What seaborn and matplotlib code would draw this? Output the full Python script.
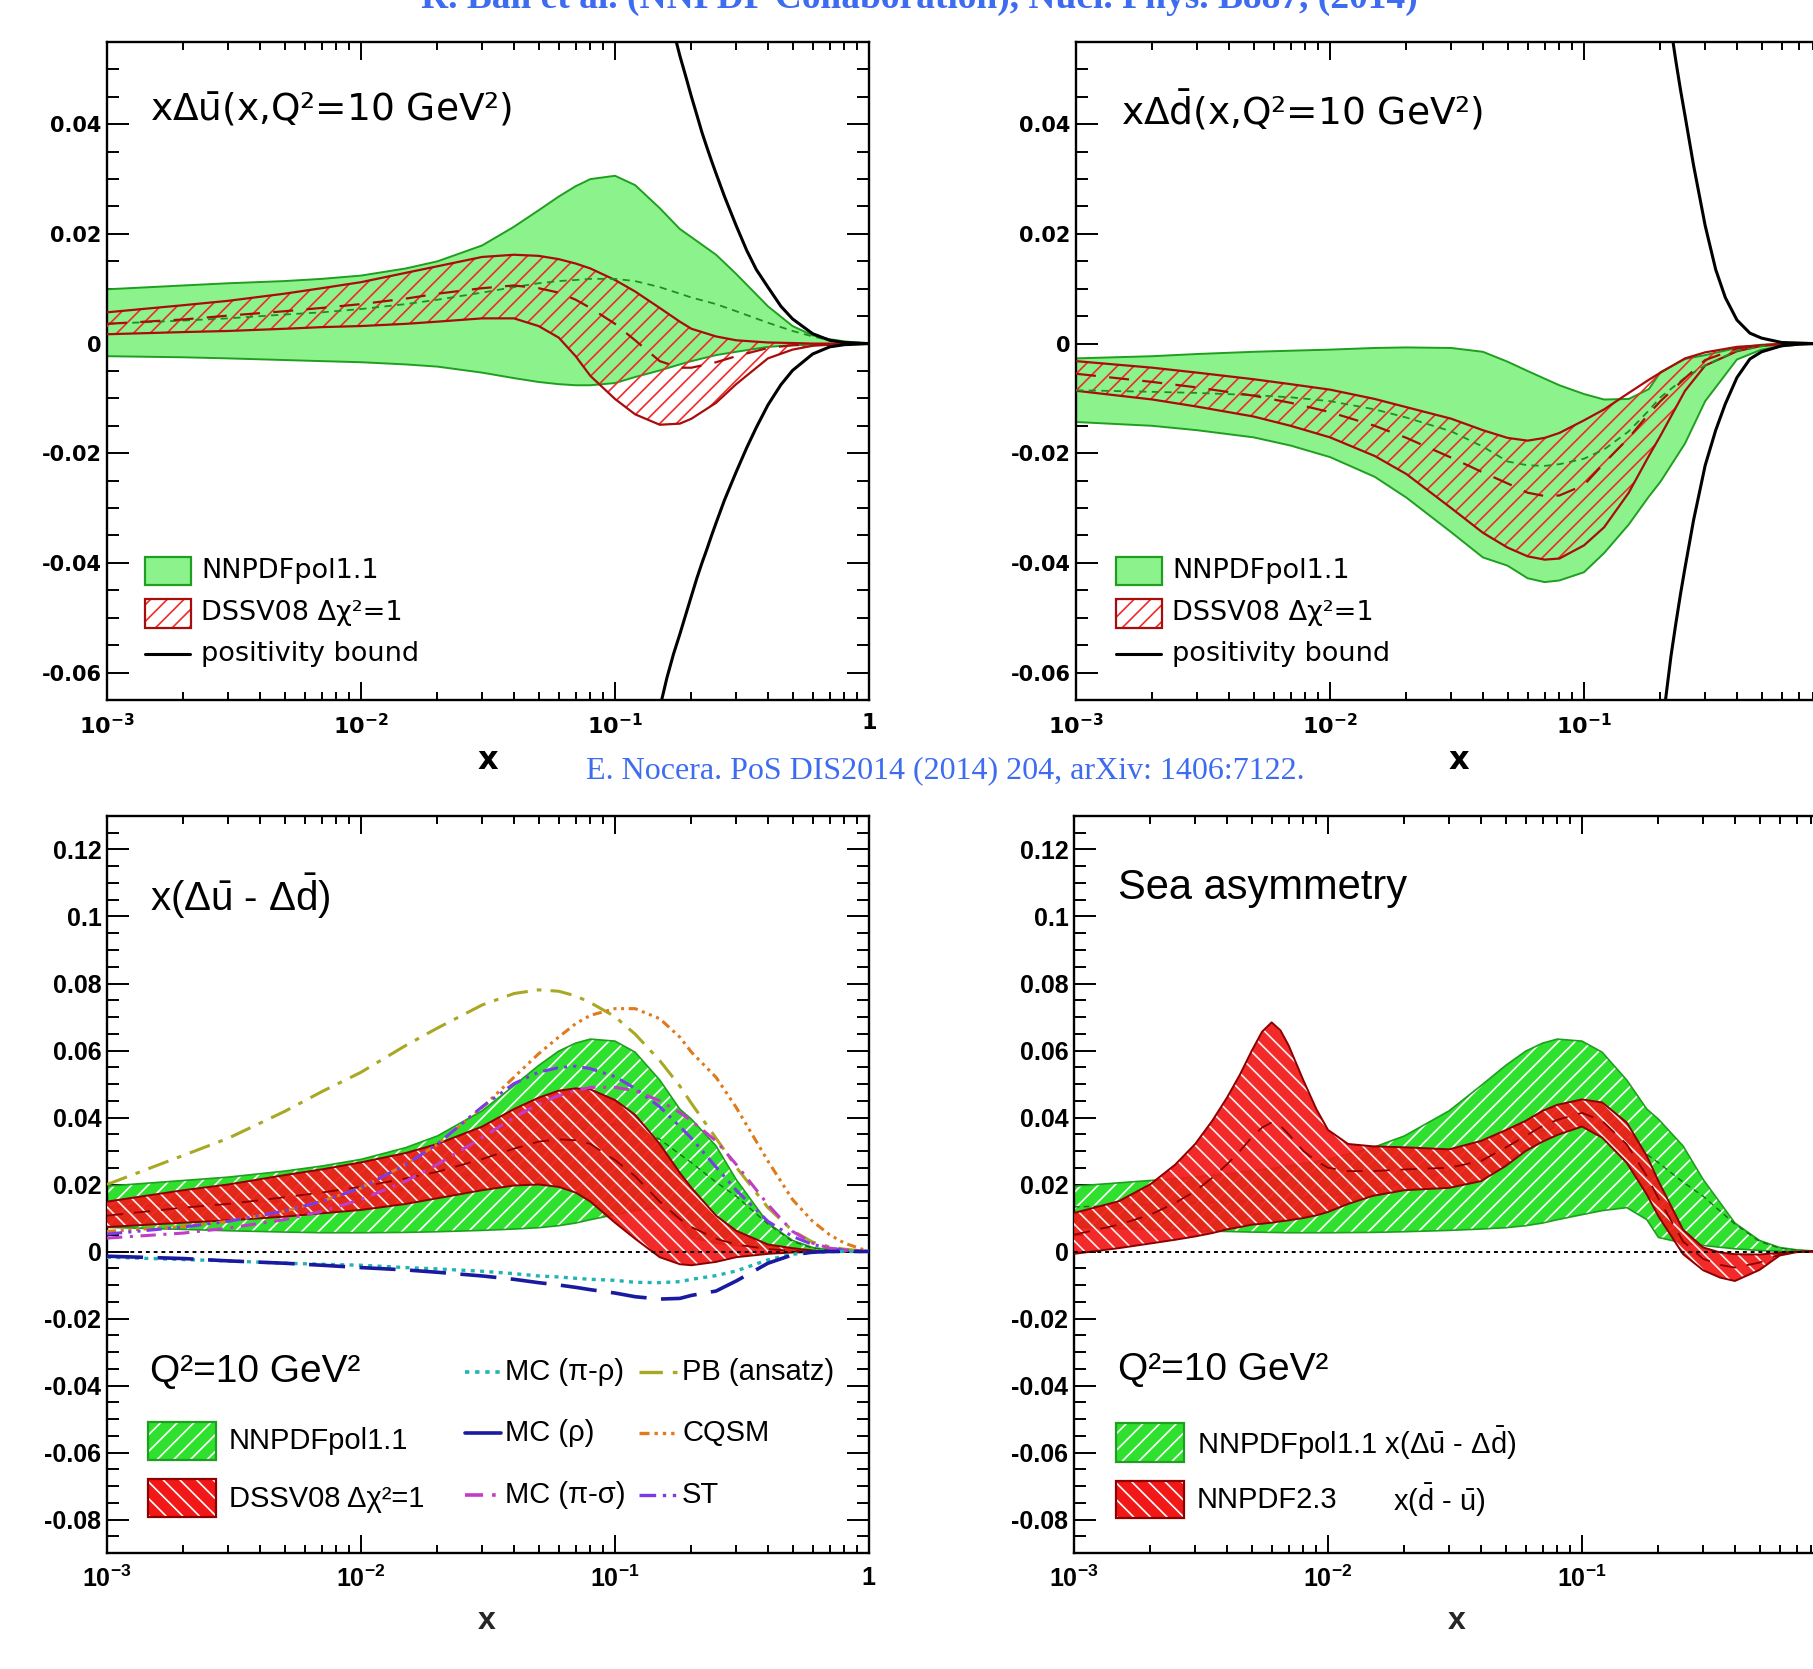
import numpy as np
import matplotlib
matplotlib.use("Agg")
import matplotlib.pyplot as plt
import seaborn as sns
from matplotlib.patches import Rectangle
from matplotlib.lines import Line2D
from matplotlib.ticker import FixedLocator, LogLocator, NullFormatter, MultipleLocator

sns.set_theme(style="ticks")
plt.rcParams["font.family"] = ["DejaVu Sans"]
plt.rcParams["mathtext.fontset"] = "custom"
plt.rcParams["mathtext.rm"] = "Liberation Sans"
plt.rcParams["mathtext.it"] = "Liberation Sans"
plt.rcParams["mathtext.bf"] = "Liberation Sans:bold"
plt.rcParams["hatch.linewidth"] = 1.2

# ---------------- data ----------------
x_grid = [0.001, 0.002, 0.003, 0.005, 0.007, 0.01, 0.015, 0.02, 0.03, 0.04, 0.05, 0.06, 0.07,
          0.08, 0.1, 0.12, 0.15, 0.18, 0.2, 0.25, 0.3, 0.4, 0.5, 0.6, 0.7, 0.8, 1.0]
x_bound = [0.15, 0.16, 0.17, 0.18, 0.19, 0.2, 0.21, 0.22, 0.23, 0.24, 0.25, 0.27, 0.3, 0.33, 0.36, 0.4, 0.45,
           0.5, 0.6, 0.7, 0.8, 0.9, 1.0]

# x Delta ubar
ubar_nn_hi = [0.0099, 0.0106, 0.011, 0.0114, 0.0118, 0.0124, 0.0137, 0.015, 0.0179, 0.0213, 0.0243, 0.0268, 0.0287,
              0.030, 0.0306, 0.0289, 0.0247, 0.0209, 0.0194, 0.0162, 0.0127, 0.0068, 0.0032, 0.0015, 0.0008, 0.0004, 0.0]
ubar_nn_lo = [-0.0023, -0.0025, -0.0027, -0.0030, -0.0032, -0.0034, -0.0038, -0.0042, -0.0053, -0.0063, -0.0070, -0.0074,
              -0.0076, -0.0076, -0.0072, -0.0061, -0.0049, -0.0038, -0.0032, -0.0021, -0.0015, -0.0006, -0.0003, -0.0002,
              -0.0001, 0.0, 0.0]
ubar_nn_cv = [0.0036, 0.0042, 0.0046, 0.0053, 0.0057, 0.0063, 0.0072, 0.008, 0.0093, 0.0103, 0.011, 0.0114, 0.0116,
              0.0118, 0.0118, 0.0114, 0.0103, 0.0091, 0.0084, 0.0072, 0.0059, 0.0038, 0.0023, 0.0013, 0.0006, 0.0002, 0.0]
ubar_ds_hi = [0.0057, 0.007, 0.0078, 0.0091, 0.0101, 0.0112, 0.0129, 0.0141, 0.0158, 0.0162, 0.016, 0.0154, 0.0146,
              0.0137, 0.0116, 0.0095, 0.0065, 0.004, 0.0027, 0.0013, 0.0006, 0.0002, 0.0001, 0.0, 0.0, 0.0, 0.0]
ubar_ds_lo = [0.0017, 0.0021, 0.0023, 0.0027, 0.003, 0.0032, 0.0036, 0.004, 0.0046, 0.0046, 0.0032, 0.0011, -0.0023,
              -0.0059, -0.0101, -0.0129, -0.0148, -0.0146, -0.0137, -0.0108, -0.0074, -0.0027, -0.0011, -0.0004, -0.0002,
              -0.0001, 0.0]
ubar_ds_cv = [0.0036, 0.0044, 0.0051, 0.0059, 0.0065, 0.0072, 0.0082, 0.0091, 0.0101, 0.0106, 0.0101, 0.0093, 0.008,
              0.0065, 0.0036, 0.0006, -0.0032, -0.0044, -0.0044, -0.0034, -0.0023, -0.0008, -0.0003, -0.0002, -0.0001,
              0.0, 0.0]
ubar_pos_hi = [0.068, 0.0625, 0.057, 0.0525, 0.0487, 0.045, 0.0417, 0.0385, 0.0358, 0.0333, 0.031, 0.0268, 0.0215,
               0.017, 0.0135, 0.0103, 0.0068, 0.0045, 0.0018, 0.0006, 0.0002, 0.0001, 0.0]
ubar_pos_lo = [-0.0665, -0.061, -0.0566, -0.053, -0.0494, -0.046, -0.0428, -0.040, -0.0375, -0.035, -0.0327, -0.0285,
               -0.0234, -0.019, -0.0153, -0.0112, -0.0075, -0.0049, -0.0019, -0.0006, -0.0002, -0.0001, 0.0]

# x Delta dbar
dbar_nn_hi = [-0.0027, -0.0023, -0.0019, -0.0015, -0.0013, -0.0011, -0.0008, -0.0007, -0.0008, -0.0015, -0.0033, -0.0050,
              -0.0064, -0.0076, -0.0092, -0.0102, -0.0101, -0.0083, -0.0052, -0.0028, -0.0021, -0.0008, -0.0002, -0.0001,
              0.0, 0.0, 0.0]
dbar_nn_lo = [-0.0143, -0.015, -0.0158, -0.0171, -0.0186, -0.0207, -0.0243, -0.0281, -0.0344, -0.039, -0.0405, -0.0428,
              -0.0435, -0.0432, -0.0417, -0.0382, -0.0330, -0.0279, -0.0252, -0.0182, -0.0105, -0.0029, -0.0011, -0.0005,
              -0.0002, -0.0001, 0.0]
dbar_nn_cv = [-0.0085, -0.0088, -0.009, -0.0094, -0.0098, -0.0105, -0.012, -0.0135, -0.016, -0.0188, -0.0215, -0.0222,
              -0.0223, -0.022, -0.021, -0.0193, -0.016, -0.0122, -0.0098, -0.0062, -0.0040, -0.0013, -0.0005, -0.0002,
              -0.0001, 0.0, 0.0]
dbar_ds_hi = [-0.0032, -0.0044, -0.0053, -0.0065, -0.0074, -0.0084, -0.0101, -0.0116, -0.0137, -0.0158, -0.0172, -0.0177,
              -0.0172, -0.0163, -0.0140, -0.0120, -0.0090, -0.0066, -0.0053, -0.0027, -0.0016, -0.0006, -0.0003, -0.0001,
              0.0, 0.0, 0.0]
dbar_ds_lo = [-0.0086, -0.0102, -0.0115, -0.0133, -0.0150, -0.0171, -0.0205, -0.0238, -0.0300, -0.0345, -0.0372, -0.0388,
              -0.0394, -0.0392, -0.0368, -0.0335, -0.0272, -0.0205, -0.0168, -0.0086, -0.0040, -0.0014, -0.0004, -0.0002,
              -0.0001, 0.0, 0.0]
dbar_ds_cv = [-0.0055, -0.007, -0.008, -0.0095, -0.0108, -0.0125, -0.015, -0.0172, -0.0208, -0.0235, -0.0255, -0.0272,
              -0.0278, -0.0277, -0.0258, -0.0218, -0.0172, -0.0128, -0.0105, -0.0063, -0.0030, -0.0009, -0.0003, -0.0001,
              0.0, 0.0, 0.0]
dbar_pos_hi = [0.14, 0.125, 0.11, 0.095, 0.082, 0.071, 0.064, 0.0575, 0.0515, 0.0462, 0.0415, 0.0325, 0.0215, 0.0135,
               0.0084, 0.0043, 0.0019, 0.001, 0.0002, 0.0001, 0.0, 0.0, 0.0]
dbar_pos_lo = [-0.13, -0.115, -0.10, -0.092, -0.083, -0.073, -0.0645, -0.057, -0.051, -0.0456, -0.0408, -0.0322, -0.0222,
               -0.0158, -0.011, -0.0062, -0.0028, -0.0015, -0.0004, -0.0001, 0.0, 0.0, 0.0]

# x(Delta ubar - Delta dbar)
diff_nn_hi = [0.0195, 0.0212, 0.0222, 0.024, 0.0255, 0.0275, 0.031, 0.0345, 0.042, 0.0495, 0.0555, 0.0598, 0.0622,
              0.0634, 0.0628, 0.0595, 0.0512, 0.0425, 0.0395, 0.0315, 0.0215, 0.0085, 0.0033, 0.0012, 0.0005, 0.0002, 0.0]
diff_nn_lo = [0.0072, 0.0066, 0.0062, 0.0058, 0.0056, 0.0056, 0.0057, 0.0059, 0.0063, 0.0067, 0.0071, 0.0077, 0.0085,
              0.0095, 0.011, 0.0122, 0.0131, 0.0095, 0.0042, 0.0025, 0.0018, 0.0008, 0.0003, 0.0001, 0.0, 0.0, 0.0]
diff_nn_cv = [0.0133, 0.014, 0.0145, 0.015, 0.0157, 0.0166, 0.0185, 0.0203, 0.024, 0.028, 0.0313, 0.034, 0.036, 0.0372,
              0.038, 0.037, 0.0335, 0.029, 0.0265, 0.0207, 0.0165, 0.0082, 0.003, 0.001, 0.0004, 0.0001, 0.0]
diff_ds_hi = [0.0149, 0.0183, 0.02, 0.0228, 0.0245, 0.0266, 0.0294, 0.0321, 0.0373, 0.0425, 0.0459, 0.048, 0.0487,
              0.0484, 0.0452, 0.0408, 0.0321, 0.0235, 0.019, 0.0107, 0.0062, 0.0021, 0.001, 0.0003, 0.0, 0.0, 0.0]
diff_ds_lo = [0.0073, 0.0086, 0.0093, 0.0104, 0.0114, 0.0124, 0.0142, 0.0159, 0.0183, 0.0197, 0.02, 0.0193, 0.0176,
              0.0149, 0.0086, 0.0038, -0.0017, -0.0038, -0.0041, -0.0031, -0.0017, -0.0007, -0.0003, -0.0002, -0.0001,
              0.0, 0.0]
diff_ds_cv = [0.0107, 0.0131, 0.0142, 0.0162, 0.0176, 0.0193, 0.0218, 0.0238, 0.0276, 0.0307, 0.0328, 0.0335, 0.0332,
              0.0321, 0.0273, 0.0225, 0.0149, 0.0097, 0.0073, 0.0038, 0.0021, 0.0007, 0.0002, 0.0, 0.0, 0.0, 0.0]

# model curves
mc_pirho = [-0.0017, -0.0024, -0.0028, -0.0035, -0.0038, -0.0041, -0.0048, -0.0052, -0.0059, -0.0066, -0.0073, -0.0076,
            -0.008, -0.0083, -0.0086, -0.0092, -0.0093, -0.009, -0.0083, -0.0072, -0.0058, -0.0025, -0.0008, -0.0003,
            0.0, 0.0, 0.0]
mc_rho = [-0.0014, -0.0021, -0.0028, -0.0035, -0.0041, -0.0048, -0.0055, -0.0062, -0.0073, -0.0083, -0.0093, -0.01,
          -0.0107, -0.0114, -0.0124, -0.0135, -0.0142, -0.014, -0.0131, -0.0118, -0.0088, -0.0035, -0.001, -0.0002,
          0.0, 0.0, 0.0]
mc_pisigma = [0.004, 0.0055, 0.007, 0.0095, 0.012, 0.0155, 0.021, 0.026, 0.034, 0.04, 0.044, 0.0465, 0.048, 0.049, 0.049,
              0.048, 0.045, 0.0415, 0.039, 0.033, 0.026, 0.014, 0.006, 0.0025, 0.001, 0.0004, 0.0]
pb_ansatz = [0.02, 0.0287, 0.0338, 0.0418, 0.0477, 0.0535, 0.0615, 0.0667, 0.0736, 0.077, 0.0781, 0.0777, 0.0763, 0.0743,
             0.0701, 0.0649, 0.057, 0.0494, 0.0442, 0.0338, 0.0252, 0.0131, 0.0062, 0.0028, 0.0014, 0.0007, 0.0]
cqsm = [0.006, 0.0075, 0.009, 0.012, 0.015, 0.019, 0.026, 0.032, 0.043, 0.052, 0.059, 0.064, 0.068, 0.0705, 0.0725,
        0.0725, 0.0695, 0.064, 0.0595, 0.052, 0.043, 0.027, 0.0155, 0.009, 0.005, 0.0025, 0.0]
st_model = [0.0052, 0.0073, 0.009, 0.0121, 0.0149, 0.019, 0.0259, 0.0321, 0.0432, 0.0501, 0.0535, 0.0549, 0.0553, 0.0546,
            0.0522, 0.0487, 0.0432, 0.0373, 0.0338, 0.0252, 0.0183, 0.009, 0.0045, 0.0021, 0.001, 0.0004, 0.0]

# NNPDF2.3 x(dbar - ubar)
x_nn23 = [0.001, 0.0015, 0.002, 0.0025, 0.003, 0.0035, 0.004, 0.0045, 0.005, 0.0055, 0.006, 0.0065, 0.007, 0.008, 0.009,
          0.01, 0.012, 0.015, 0.02, 0.03, 0.04, 0.05, 0.06, 0.07, 0.08, 0.1, 0.12, 0.15, 0.18, 0.2, 0.25, 0.3, 0.35,
          0.4, 0.5, 0.6, 0.7, 0.8, 1.0]
nn23_hi = [0.0115, 0.015, 0.0201, 0.0259, 0.0321, 0.039, 0.0459, 0.0528, 0.0598, 0.0656, 0.0684, 0.066, 0.0615, 0.0511,
           0.0425, 0.0363, 0.0321, 0.0314, 0.0311, 0.0305, 0.033, 0.0362, 0.039, 0.042, 0.0438, 0.0454, 0.0445, 0.0385,
           0.0285, 0.021, 0.0065, 0.0012, -0.0003, -0.0008, -0.0009, -0.0004, -0.0001, 0.0, 0.0]
nn23_lo = [-0.0007, 0.001, 0.0024, 0.0035, 0.0045, 0.0055, 0.0066, 0.0073, 0.008, 0.0083, 0.0086, 0.009, 0.0093, 0.01,
           0.0108, 0.0118, 0.0142, 0.0166, 0.0183, 0.019, 0.021, 0.0255, 0.030, 0.0328, 0.0348, 0.0373, 0.034, 0.0265,
           0.017, 0.0105, -0.0008, -0.0056, -0.0078, -0.0088, -0.0055, -0.0012, -0.0002, 0.0, 0.0]
nn23_cv = [0.005, 0.008, 0.011, 0.0145, 0.018, 0.022, 0.026, 0.030, 0.034, 0.037, 0.0385, 0.0375, 0.035, 0.030, 0.027,
           0.025, 0.024, 0.024, 0.0245, 0.025, 0.027, 0.031, 0.0345, 0.0375, 0.0393, 0.0414, 0.039, 0.032, 0.0225, 0.0158,
           0.003, -0.0022, -0.004, -0.0048, -0.0033, -0.0009, -0.0001, 0.0, 0.0]

x_tick_values = [1e-3, 1e-2, 1e-1, 1.0]
x_tick_labels = [r"$\mathbf{10^{-3}}$", r"$\mathbf{10^{-2}}$", r"$\mathbf{10^{-1}}$", r"$\mathbf{1}$"]
top_yticks = [-0.06, -0.04, -0.02, 0.0, 0.02, 0.04]
bot_yticks = [-0.08, -0.06, -0.04, -0.02, 0.0, 0.02, 0.04, 0.06, 0.08, 0.1, 0.12]

# ---------------- styling ----------------
W, H = 1813, 1669
fig = plt.figure(figsize=(W / 100, H / 100), dpi=100, facecolor="white")

def fx(px):
    return px / W

def fy(py):
    return 1 - py / H

ax_tl = fig.add_axes([fx(107), fy(700), 762 / W, 658 / H])
ax_tr = fig.add_axes([fx(1076), fy(700), 762 / W, 658 / H])
ax_bl = fig.add_axes([fx(107), fy(1553), 762 / W, 737 / H])
ax_br = fig.add_axes([fx(1074), fy(1553), 762 / W, 737 / H])

GREEN_FILL = "#8cf28c"
GREEN_EDGE = "#1f9e1f"
RED_HATCH = "#f02a2a"
RED_EDGE = "#a80c0c"
BGREEN = "#2fe02f"
BRED = "#f21818"


def fmt_y(v):
    if abs(v) < 1e-9:
        return "0"
    return ("%g" % round(v, 3))


def style_axes(ax, ylim, yticks, top, right_panel):
    ax.set_xscale("log")
    ax.set_xlim(1e-3, 1.0)
    ax.set_ylim(*ylim)
    ax.set_facecolor("white")
    fam = "DejaVu Sans" if top else "Liberation Sans"
    mff = "dejavusans" if top else "custom"
    ax.xaxis.set_major_locator(FixedLocator(x_tick_values))
    ax.xaxis.set_minor_locator(LogLocator(base=10, subs=np.arange(2, 10), numticks=30))
    ax.xaxis.set_minor_formatter(NullFormatter())
    ax.set_xticks(x_tick_values)
    labels = list(x_tick_labels)
    if right_panel:
        labels[-1] = ""  # beyond the cropped right edge
    ax.set_xticklabels(labels, fontsize=16 if top else 18, fontfamily=fam, math_fontfamily=mff)
    ax.set_yticks(yticks)
    ax.set_yticklabels([fmt_y(v) for v in yticks], fontsize=15 if top else 18, fontweight="bold", fontfamily=fam)
    ax.yaxis.set_minor_locator(MultipleLocator(0.005))
    ax.tick_params(axis="both", which="both", direction="in", top=True, right=True, width=1.4, color="black",
                   labelcolor="black")
    ax.tick_params(axis="y", which="major", length=16, pad=4)
    ax.tick_params(axis="y", which="minor", length=8.5)
    ax.tick_params(axis="x", which="major", length=13, pad=9)
    ax.tick_params(axis="x", which="minor", length=6)
    for s in ax.spines.values():
        s.set_linewidth(1.7)
        s.set_color("black")
    ax.grid(False)


def line(ax, x, y, **kw):
    sns.lineplot(x=x, y=y, ax=ax, estimator=None, sort=False, **kw)


def draw_top(ax, nn_lo, nn_hi, nn_cv, ds_lo, ds_hi, ds_cv, pos_hi, pos_lo):
    ax.fill_between(x_grid, nn_lo, nn_hi, facecolor=GREEN_FILL, edgecolor="none", linewidth=0, zorder=1)
    line(ax, x_grid, nn_hi, color=GREEN_EDGE, linewidth=1.4, zorder=2)
    line(ax, x_grid, nn_lo, color=GREEN_EDGE, linewidth=1.4, zorder=2)
    ax.fill_between(x_grid, ds_lo, ds_hi, facecolor="none", edgecolor=RED_HATCH, hatch="//", linewidth=0, zorder=3)
    line(ax, x_grid, ds_hi, color=RED_EDGE, linewidth=1.6, zorder=4)
    line(ax, x_grid, ds_lo, color=RED_EDGE, linewidth=1.6, zorder=4)
    line(ax, x_grid, nn_cv, color="#1f8f1f", linewidth=1.3, linestyle=(0, (4, 3)), zorder=4)
    line(ax, x_grid, ds_cv, color=RED_EDGE, linewidth=1.6, linestyle=(0, (9, 6)), zorder=4)
    line(ax, x_bound, pos_hi, color="black", linewidth=2.2, zorder=5)
    line(ax, x_bound, pos_lo, color="black", linewidth=2.2, zorder=5)


style_axes(ax_tl, (-0.065, 0.055), top_yticks, True, False)
style_axes(ax_tr, (-0.065, 0.055), top_yticks, True, True)
style_axes(ax_bl, (-0.09, 0.13), bot_yticks, False, False)
style_axes(ax_br, (-0.09, 0.13), bot_yticks, False, True)

draw_top(ax_tl, ubar_nn_lo, ubar_nn_hi, ubar_nn_cv, ubar_ds_lo, ubar_ds_hi, ubar_ds_cv, ubar_pos_hi, ubar_pos_lo)
draw_top(ax_tr, dbar_nn_lo, dbar_nn_hi, dbar_nn_cv, dbar_ds_lo, dbar_ds_hi, dbar_ds_cv, dbar_pos_hi, dbar_pos_lo)


def green_pattern_band(ax, x, lo, hi, cv):
    ax.fill_between(x, lo, hi, facecolor=BGREEN, edgecolor="white", hatch="//", linewidth=0, zorder=1)
    line(ax, x, hi, color=GREEN_EDGE, linewidth=1.2, zorder=2)
    line(ax, x, lo, color=GREEN_EDGE, linewidth=1.2, zorder=2)
    line(ax, x, cv, color="#176f17", linewidth=1.0, linestyle=(0, (4, 3)), zorder=2)


def red_pattern_band(ax, x, lo, hi, cv):
    ax.fill_between(x, lo, hi, facecolor=BRED, edgecolor="white", hatch="\\\\", linewidth=0, alpha=0.92, zorder=3)
    line(ax, x, hi, color="#8c0000", linewidth=1.4, zorder=4)
    line(ax, x, lo, color="#8c0000", linewidth=1.4, zorder=4)
    line(ax, x, cv, color="#8c0000", linewidth=1.3, linestyle=(0, (9, 6)), zorder=4)


# bottom left
ax_bl.axhline(0.0, color="black", linewidth=1.4, linestyle=(0, (2, 2)), zorder=6)
green_pattern_band(ax_bl, x_grid, diff_nn_lo, diff_nn_hi, diff_nn_cv)
red_pattern_band(ax_bl, x_grid, diff_ds_lo, diff_ds_hi, diff_ds_cv)

C_PIRHO = "#20b4b4"
C_RHO = "#1a1aa0"
C_PISIG = "#c23cc8"
C_PB = "#a9a822"
C_CQSM = "#e07a1a"
C_ST = "#7a3ce6"
LS_PIRHO = (0, (1.2, 1.6))
LS_RHO = (0, (10, 4))
LS_PISIG = (0, (5, 2.5, 1, 2.5))
LS_PB = (0, (7, 3, 1.5, 3))
LS_CQSM = (0, (3, 1.5, 1, 1.5, 1, 1.5, 1, 1.5))
LS_ST = (0, (5, 2, 1, 2, 1, 2))

line(ax_bl, x_grid, pb_ansatz, color=C_PB, linewidth=2.2, linestyle=LS_PB, zorder=7)
line(ax_bl, x_grid, cqsm, color=C_CQSM, linewidth=2.2, linestyle=LS_CQSM, zorder=7)
line(ax_bl, x_grid, st_model, color=C_ST, linewidth=2.2, linestyle=LS_ST, zorder=7)
line(ax_bl, x_grid, mc_pisigma, color=C_PISIG, linewidth=2.2, linestyle=LS_PISIG, zorder=7)
line(ax_bl, x_grid, mc_pirho, color=C_PIRHO, linewidth=2.4, linestyle=LS_PIRHO, zorder=7)
line(ax_bl, x_grid, mc_rho, color=C_RHO, linewidth=2.6, linestyle=LS_RHO, zorder=7)

# bottom right
ax_br.axhline(0.0, color="black", linewidth=1.4, linestyle=(0, (2, 2)), zorder=6)
green_pattern_band(ax_br, x_grid, diff_nn_lo, diff_nn_hi, diff_nn_cv)
red_pattern_band(ax_br, x_nn23, nn23_lo, nn23_hi, nn23_cv)

# ---------------- texts & legends ----------------
def ftext(px, py, s, **kw):
    fig.text(fx(px), fy(py), s, **kw)


def frect(x0, y0, x1, y1, **kw):
    fig.add_artist(Rectangle((fx(x0), fy(y1)), (x1 - x0) / W, (y1 - y0) / H, transform=fig.transFigure, **kw))


def fline(x0, x1, y, **kw):
    fig.add_artist(Line2D([fx(x0), fx(x1)], [fy(y), fy(y)], transform=fig.transFigure, **kw))


topkw = dict(fontfamily="DejaVu Sans", math_fontfamily="dejavusans", color="black")
for dx, title in [(0, r"x$\Delta\bar{\mathrm{u}}$(x,Q²=10 GeV²)"), (971, r"x$\Delta\bar{\mathrm{d}}$(x,Q²=10 GeV²)")]:
    ftext(150 + dx, 110, title, fontsize=27, va="center", ha="left", **topkw)
    frect(145 + dx, 557, 191 + dx, 585, facecolor=GREEN_FILL, edgecolor=GREEN_EDGE, linewidth=1.6)
    frect(145 + dx, 599, 191 + dx, 628, facecolor="white", edgecolor=RED_HATCH, hatch="//", linewidth=0)
    frect(145 + dx, 599, 191 + dx, 628, facecolor="none", edgecolor=RED_EDGE, linewidth=1.6)
    fline(145 + dx, 190 + dx, 654, color="black", linewidth=2.2)
    ftext(201 + dx, 571, "NNPDFpol1.1", fontsize=19.5, va="center", **topkw)
    ftext(201 + dx, 613, "DSSV08 Δχ²=1", fontsize=19.5, va="center", **topkw)
    ftext(201 + dx, 654, "positivity bound", fontsize=19.5, va="center", **topkw)
    ftext(488 + dx, 760, "x", fontsize=23, fontweight="bold", ha="center", va="center", **topkw)

botkw = dict(fontfamily="Liberation Sans", math_fontfamily="custom", color="black")
ftext(150, 896, r"x($\Delta\bar{\mathrm{u}}$ - $\Delta\bar{\mathrm{d}}$)", fontsize=29, va="center", **botkw)
ftext(150, 1372, "Q²=10 GeV²", fontsize=28, va="center", **botkw)
frect(148, 1422, 216, 1460, facecolor=BGREEN, edgecolor="white", hatch="//", linewidth=0)
frect(148, 1422, 216, 1460, facecolor="none", edgecolor=GREEN_EDGE, linewidth=1.6)
frect(148, 1479, 216, 1517, facecolor=BRED, edgecolor="white", hatch="\\\\", linewidth=0)
frect(148, 1479, 216, 1517, facecolor="none", edgecolor="#8c0000", linewidth=1.6)
ftext(229, 1441, "NNPDFpol1.1", fontsize=21, va="center", **botkw)
ftext(229, 1499, "DSSV08 Δχ²=1", fontsize=21, va="center", **botkw)

for y, col, ls, lab in [(1372, C_PIRHO, LS_PIRHO, "MC (π-ρ)"), (1433, C_RHO, "-", "MC (ρ)"),
                        (1495, C_PISIG, LS_PISIG, "MC (π-σ)")]:
    fline(465, 501, y, color=col, linewidth=2.6, linestyle=ls)
    ftext(505, y, lab, fontsize=21, va="center", **botkw)
for y, col, ls, lab in [(1372, C_PB, LS_PB, "PB (ansatz)"), (1433, C_CQSM, LS_CQSM, "CQSM"),
                        (1495, C_ST, LS_ST, "ST")]:
    fline(639, 677, y, color=col, linewidth=2.4, linestyle=ls)
    ftext(682, y, lab, fontsize=21, va="center", **botkw)

ftext(1118, 888, "Sea asymmetry", fontsize=30, va="center", **botkw)
ftext(1118, 1370, "Q²=10 GeV²", fontsize=28, va="center", **botkw)
frect(1116, 1423, 1184, 1462, facecolor=BGREEN, edgecolor="white", hatch="//", linewidth=0)
frect(1116, 1423, 1184, 1462, facecolor="none", edgecolor=GREEN_EDGE, linewidth=1.6)
frect(1116, 1481, 1184, 1518, facecolor=BRED, edgecolor="white", hatch="\\\\", linewidth=0)
frect(1116, 1481, 1184, 1518, facecolor="none", edgecolor="#8c0000", linewidth=1.6)
ftext(1197, 1443, r"NNPDFpol1.1 x($\Delta\bar{\mathrm{u}}$ - $\Delta\bar{\mathrm{d}}$)", fontsize=21, va="center", **botkw)
ftext(1197, 1500, "NNPDF2.3", fontsize=21, va="center", **botkw)
ftext(1393, 1500, r"x($\bar{\mathrm{d}}$ - $\bar{\mathrm{u}}$)", fontsize=21, va="center", **botkw)

ftext(487, 1621, "x", fontsize=23, fontweight="bold", ha="center", va="center", fontfamily="Liberation Sans")
ftext(1457, 1621, "x", fontsize=23, fontweight="bold", ha="center", va="center", fontfamily="Liberation Sans")

ftext(945, 771, "E. Nocera. PoS DIS2014 (2014) 204, arXiv: 1406:7122.", fontsize=23, ha="center", va="center",
      fontfamily="Liberation Serif", color="#3d6cf0")
ftext(919, 8, "R. Ball et al. (NNPDF Collaboration), Nucl. Phys. B887, (2014)", fontsize=27, fontweight="bold",
      ha="center", va="baseline", fontfamily="Liberation Serif", color="#3d6cf0")

fig.savefig("out.png", dpi=100, facecolor="white")
